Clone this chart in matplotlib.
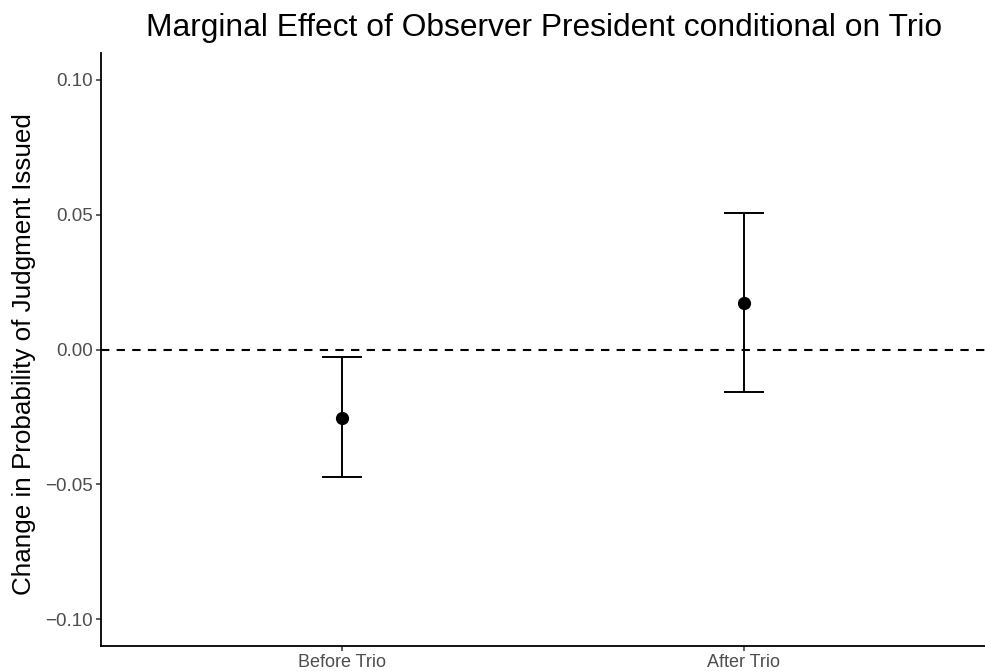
import matplotlib
matplotlib.use("Agg")
import matplotlib.pyplot as plt

plt.rcParams['font.family'] = ['Liberation Sans', 'DejaVu Sans']

categories = ["Before Trio", "After Trio"]
estimates = [-0.0255, 0.0174]
lower = [-0.0474, -0.0159]
upper = [-0.0026, 0.0507]
yticks = [-0.10, -0.05, 0.00, 0.05, 0.10]
ytick_labels = ["\u22120.10", "\u22120.05", "0.00", "0.05", "0.10"]

fig = plt.figure(figsize=(9.85, 6.71), dpi=100)
ax = fig.add_axes([101/985, 1 - 646/671, 884/985, (646-53)/671])

xpos = list(range(1, len(categories) + 1))
yerr = [[e - l for e, l in zip(estimates, lower)], [u - e for u, e in zip(upper, estimates)]]
ax.errorbar(xpos, estimates, yerr=yerr, fmt='o', color='black', markersize=8.5,
            elinewidth=1.4, capsize=14.4, capthick=1.4, zorder=3)
ax.axhline(0, color='black', linestyle=(0, (4, 3.5)), linewidth=1.5, zorder=2)

ax.set_xlim(0.4, 2.6)
ax.set_ylim(-0.11, 0.11)
ax.set_xticks(xpos)
ax.set_xticklabels(categories, fontsize=13, color='#4D4D4D')
ax.set_yticks(yticks)
ax.set_yticklabels(ytick_labels, fontsize=13.5, color='#4D4D4D')
ax.tick_params(axis='both', length=3.3, width=1.1, color='#333333')
ax.tick_params(axis='x', pad=2.5)
ax.tick_params(axis='y', pad=2.5)

for s in ['top', 'right']:
    ax.spines[s].set_visible(False)
for s in ['left', 'bottom']:
    ax.spines[s].set_linewidth(1.3)

fig.text(24/985, 1 - 354/671, "Change in Probability of Judgment Issued",
         fontsize=18.7, rotation=90, ha='center', va='center')
fig.text(544/985, 1 - 36/671, "Marginal Effect of Observer President conditional on Trio",
         fontsize=22.9, ha='center', va='baseline')

fig.savefig("out.png", dpi=100)
